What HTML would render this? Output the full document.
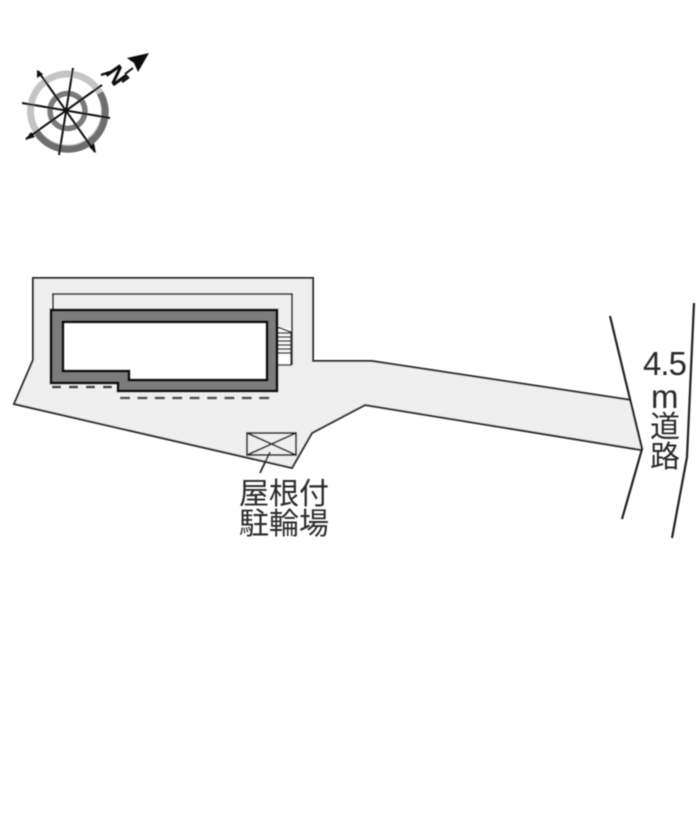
<!DOCTYPE html>
<html><head><meta charset="utf-8">
<style>
html,body{margin:0;padding:0;background:#fff}
svg{display:block}
text{font-family:"Liberation Sans","Noto Sans CJK JP",sans-serif;fill:#2a2a2a}
</style></head><body>
<svg width="700" height="823" viewBox="0 0 700 823" xmlns="http://www.w3.org/2000/svg">
<defs><filter id="b" x="-5%" y="-5%" width="110%" height="110%"><feGaussianBlur stdDeviation="0.45"/></filter></defs>
<g filter="url(#b)">
<!-- lot -->
<polygon points="33,278 313,278 313,361 372,361 631,400 641,450 365,405 312,433 292,468 14,404 33,360" fill="#efefef"/>
<polyline points="33,360 33,278 313,278 313,361 372,361 631,400" fill="none" stroke="#2c2c2c" stroke-width="2"/>
<polyline points="33,360 14,404 292,468 312,433 365,405 641,450" fill="none" stroke="#2c2c2c" stroke-width="2"/>
<!-- balcony -->
<polyline points="53,310 53,294 292,294 292,365" fill="none" stroke="#333" stroke-width="1.8"/>
<!-- stairs -->
<rect x="277" y="328" width="14" height="37" fill="#fff"/>
<polyline points="277,327 291,332 291,365 277,365" fill="none" stroke="#333" stroke-width="1.5"/>
<g stroke="#333" stroke-width="1.5"><line x1="277" y1="333" x2="291" y2="333"/><line x1="277" y1="337" x2="291" y2="337"/><line x1="277" y1="341" x2="291" y2="341"/><line x1="277" y1="345" x2="291" y2="345"/><line x1="277" y1="349" x2="291" y2="349"/><line x1="277" y1="353" x2="291" y2="353"/></g>
<!-- building -->
<polygon points="51,310 277,310 277,391 118,391 118,383 51,383" fill="#7c7c7c" stroke="#111" stroke-width="2.8"/>
<polygon points="63,322 267,322 267,380 129,380 129,371 63,371" fill="#fff" stroke="#111" stroke-width="2.8"/>
<!-- dashes -->
<line x1="52" y1="387" x2="117" y2="387" stroke="#333" stroke-width="2.4" stroke-dasharray="9 8"/>
<line x1="120" y1="398" x2="276" y2="398" stroke="#444" stroke-width="2.4" stroke-dasharray="10 7.4"/>
<!-- bike parking -->
<rect x="247" y="433" width="49" height="22" fill="none" stroke="#333" stroke-width="1.8"/>
<line x1="247" y1="433" x2="296" y2="455" stroke="#222" stroke-width="1.7"/>
<line x1="247" y1="455" x2="296" y2="433" stroke="#222" stroke-width="1.7"/>
<line x1="270" y1="452" x2="260" y2="473" stroke="#222" stroke-width="1.7"/>
<text x="239" y="504" font-size="30" textLength="90">屋根付</text>
<text x="239" y="534" font-size="30" textLength="90">駐輪場</text>
<!-- road -->
<polyline points="610,316 642,449 622,519" fill="none" stroke="#222" stroke-width="2.2"/>
<polyline points="694,303 687,457 672,538" fill="none" stroke="#222" stroke-width="2.2"/>
<text x="643" y="375" font-size="33" textLength="44">4.5</text>
<text x="651" y="408" font-size="33">m</text>
<text x="650" y="437" font-size="30">道</text>
<text x="650" y="467" font-size="30">路</text>
<!-- compass -->
<circle cx="67.5" cy="111" r="37" fill="none" stroke="#c4c4c4" stroke-width="7"/>
<path d="M100,93 A37,37 0 0 1 36,131" fill="none" stroke="#6e6e6e" stroke-width="7"/>
<circle cx="67.5" cy="111" r="17.5" fill="none" stroke="#7a7a7a" stroke-width="5.5"/>
<g stroke="#111" stroke-width="2">
<line x1="38" y1="71" x2="95" y2="152"/>
<line x1="73" y1="68" x2="59" y2="155"/>
<line x1="22" y1="103" x2="110" y2="118"/>
<line x1="26" y1="139" x2="102" y2="85"/>
<line x1="101" y1="75" x2="110" y2="72" stroke-width="2.4"/>
<line x1="122" y1="82" x2="129" y2="77" stroke-width="2.4"/>
</g>
<polygon points="37,70 37,78 43,74" fill="#111"/>
<polygon points="96,153 89,147 94,143" fill="#111"/>
<polygon points="25,140 31,132 35,137" fill="#111"/>
<text x="0" y="0" font-size="25" font-weight="bold" text-anchor="middle" transform="translate(117,75) rotate(55) translate(0,9)" style="fill:#111">N</text>
<line x1="125" y1="74" x2="133" y2="68" stroke="#111" stroke-width="2"/>
<polygon points="149,53 127,58 134,63 138,72" fill="#111"/>
</g>
</svg>
</body></html>
